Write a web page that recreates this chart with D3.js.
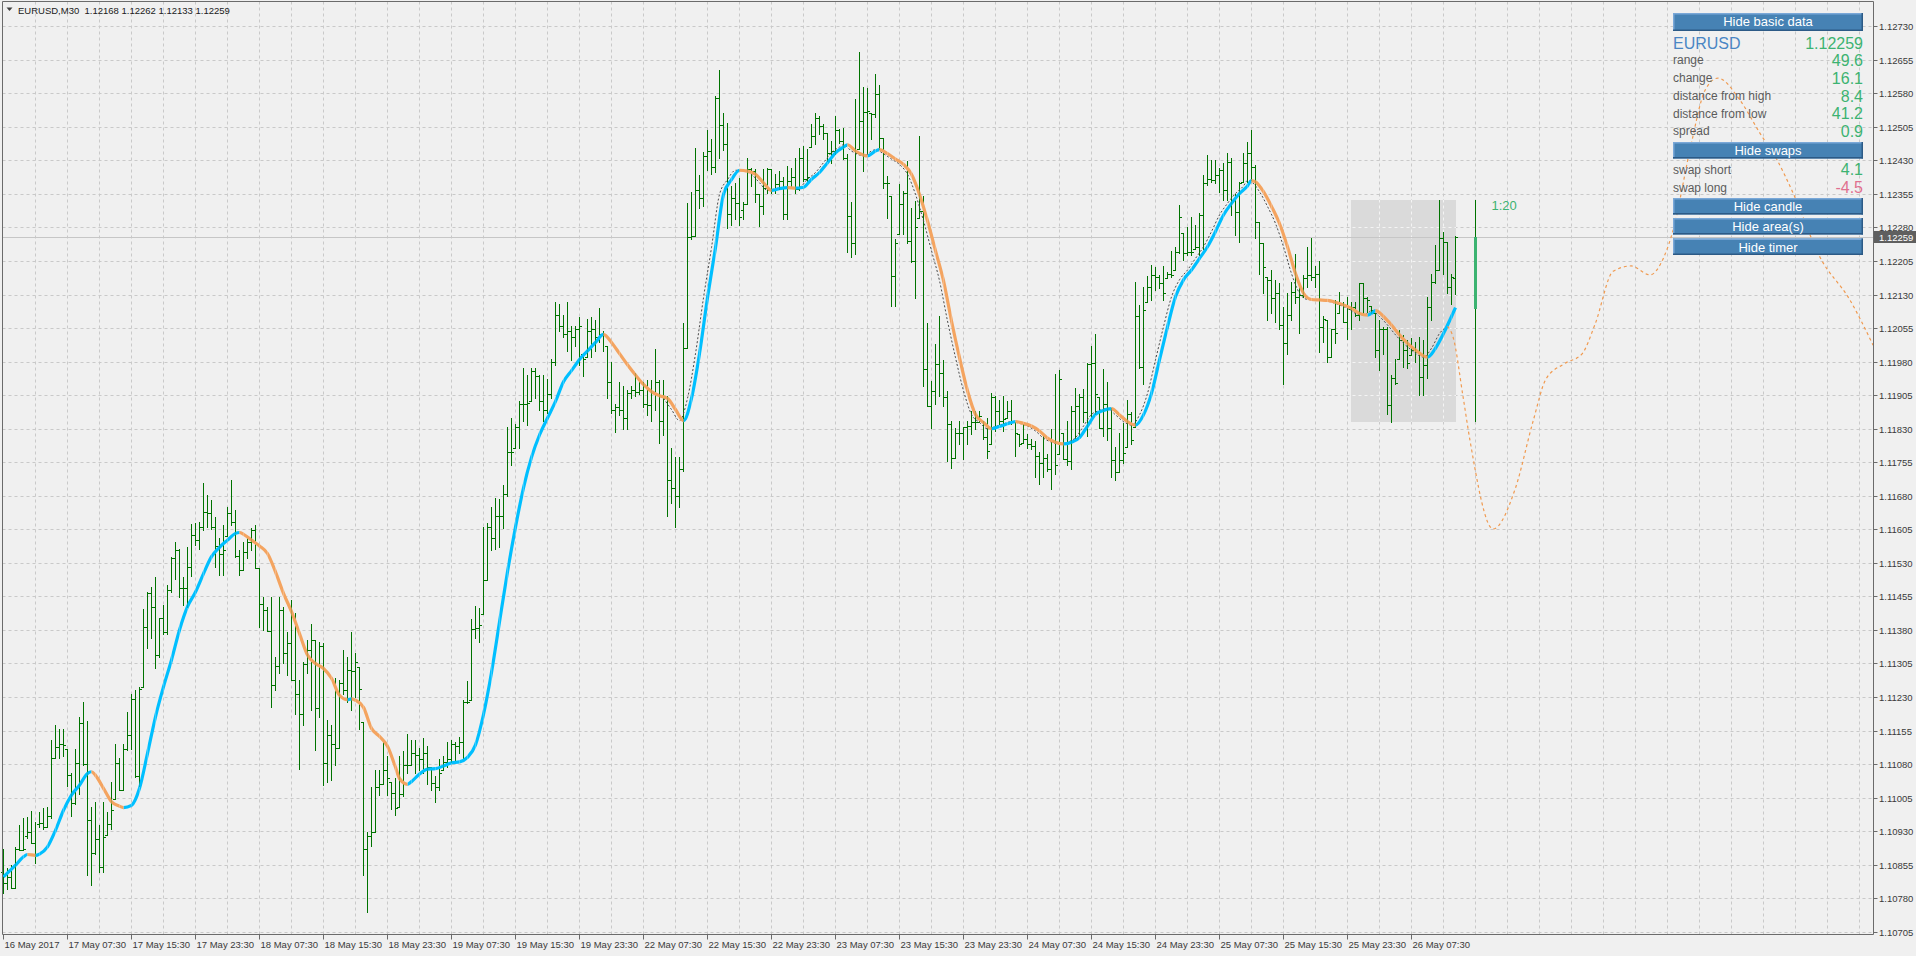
<!DOCTYPE html>
<html><head><meta charset="utf-8">
<script src="https://cdn.jsdelivr.net/npm/d3@7"></script>
<style>
body{margin:0;background:#f0f0f0;overflow:hidden}
svg{display:block}
text{font-family:"Liberation Sans",Arial,sans-serif}
</style>
</head><body>
<svg id="c" width="1916" height="956"></svg>
<script>
// ---------------- DATA ----------------
const symbolTitle = "EURUSD,M30";
const lastOHLC = ["1.12168","1.12262","1.12133","1.12259"];

const barOpen = [
1.10840,1.10816,1.10829,1.10805,1.10892,1.10890,1.10920,1.10930,1.10904,1.10948,
1.10950,1.10941,1.10965,1.11094,1.11120,1.11126,1.11115,1.11056,1.10995,1.11083,
1.11174,1.11082,1.10957,1.10883,1.10913,1.10850,1.10922,1.10948,1.11004,1.11084,
1.11024,1.11116,1.11146,1.11226,1.11054,1.11254,1.11388,1.11463,1.11433,1.11325,
1.11407,1.11377,1.11470,1.11543,1.11560,1.11474,1.11474,1.11522,1.11593,1.11582,
1.11612,1.11645,1.11642,1.11612,1.11569,1.11552,1.11591,1.11643,1.11623,1.11546,
1.11515,1.11556,1.11578,1.11604,1.11519,1.11439,1.11425,1.11379,1.11258,1.11301,
1.11425,1.11329,1.11351,1.11269,1.11238,1.11193,1.11306,1.11336,1.11358,1.11206,
1.11345,1.11083,1.11146,1.11127,1.11118,1.11263,1.11247,1.11291,1.11290,1.11299,
1.11176,1.10892,1.10920,1.10930,1.11030,1.11036,1.11067,1.11042,1.11017,1.10986,
1.11014,1.11080,1.11080,1.11105,1.11101,1.11092,1.11105,1.11074,1.11039,1.11030,
1.11067,1.11086,1.11092,1.11126,1.11121,1.11130,1.11221,1.11224,1.11384,1.11386,
1.11417,1.11492,1.11611,1.11586,1.11636,1.11636,1.11686,1.11780,1.11789,1.11836,
1.11886,1.11886,1.11892,1.11961,1.11949,1.11892,1.11874,1.11909,1.11980,1.12086,
1.12061,1.12042,1.12049,1.12036,1.12055,1.11999,1.11992,1.12049,1.12055,1.12036,
1.12042,1.12017,1.11936,1.11874,1.11880,1.11874,1.11855,1.11911,1.11917,1.11914,
1.11917,1.11886,1.11884,1.11914,1.11936,1.11849,1.11899,1.11717,1.11699,1.11680,
1.11742,1.12011,1.12259,1.12261,1.12364,1.12346,1.12442,1.12451,1.12417,1.12571,
1.12511,1.12467,1.12311,1.12346,1.12336,1.12320,1.12333,1.12411,1.12407,1.12355,
1.12329,1.12370,1.12411,1.12366,1.12378,1.12385,1.12311,1.12385,1.12393,1.12366,
1.12437,1.12389,1.12460,1.12486,1.12525,1.12508,1.12493,1.12448,1.12452,1.12498,
1.12475,1.12437,1.12307,1.12247,1.12456,1.12519,1.12540,1.12538,1.12534,1.12579,
1.12482,1.12381,1.12352,1.12173,1.12267,1.12333,1.12359,1.12251,1.12206,1.12303,
1.12318,1.11964,1.11882,1.11915,1.11975,1.11956,1.11902,1.11842,1.11766,1.11822,
1.11822,1.11835,1.11837,1.11845,1.11845,1.11848,1.11813,1.11796,1.11902,1.11871,
1.11848,1.11856,1.11871,1.11845,1.11819,1.11800,1.11807,1.11796,1.11792,1.11770,
1.11755,1.11766,1.11740,1.11804,1.11774,1.11822,1.11763,1.11759,1.11871,1.11882,
1.11901,1.11869,1.11975,1.11977,1.11901,1.11833,1.11886,1.11833,1.11761,1.11735,
1.11761,1.11791,1.11865,1.11836,1.12082,1.11970,1.12115,1.12149,1.12175,1.12171,
1.12158,1.12167,1.12178,1.12186,1.12227,1.12268,1.12223,1.12227,1.12234,1.12238,
1.12309,1.12380,1.12389,1.12387,1.12398,1.12410,1.12365,1.12428,1.12342,1.12316,
1.12383,1.12426,1.12448,1.12417,1.12294,1.12246,1.12171,1.12164,1.12123,1.12134,
1.12063,1.12023,1.12085,1.12137,1.12126,1.12130,1.12167,1.12175,1.12171,1.12177,
1.12059,1.12074,1.11992,1.12055,1.12089,1.12111,1.12070,1.12098,1.12104,1.12085,
1.12158,1.12123,1.12105,1.12089,1.12008,1.12055,1.12055,1.11884,1.11944,1.11988,
1.12029,1.12007,1.11996,1.12007,1.12003,1.11947,1.11973,1.12104,1.12160,1.12186,
1.12257,1.12249,1.12149,1.12168];

const barHigh = [
1.10892,1.10848,1.10855,1.10896,1.10945,1.10960,1.10963,1.10976,1.10952,1.10974,
1.10982,1.10986,1.11135,1.11168,1.11159,1.11159,1.11115,1.11062,1.11116,1.11187,
1.11220,1.11177,1.10986,1.10997,1.10945,1.10997,1.10974,1.11042,1.11127,1.11094,
1.11127,1.11197,1.11239,1.11247,1.11254,1.11427,1.11466,1.11478,1.11500,1.11407,
1.11437,1.11481,1.11545,1.11578,1.11563,1.11500,1.11567,1.11618,1.11621,1.11623,
1.11709,1.11683,1.11672,1.11634,1.11586,1.11616,1.11657,1.11716,1.11649,1.11560,
1.11578,1.11589,1.11608,1.11616,1.11519,1.11454,1.11433,1.11455,1.11321,1.11454,
1.11433,1.11377,1.11449,1.11418,1.11270,1.11310,1.11358,1.11394,1.11358,1.11355,
1.11351,1.11179,1.11168,1.11273,1.11270,1.11336,1.11321,1.11377,1.11330,1.11299,
1.11176,1.10930,1.11030,1.11067,1.11067,1.11136,1.11099,1.11042,1.11049,1.11099,
1.11111,1.11149,1.11136,1.11136,1.11117,1.11139,1.11121,1.11074,1.11055,1.11092,
1.11099,1.11130,1.11136,1.11130,1.11142,1.11224,1.11267,1.11405,1.11434,1.11430,
1.11611,1.11621,1.11655,1.11676,1.11674,1.11705,1.11836,1.11855,1.11842,1.11892,
1.11967,1.11951,1.11967,1.11967,1.11951,1.11951,1.11942,1.11986,1.12114,1.12109,
1.12086,1.12114,1.12061,1.12061,1.12080,1.11999,1.12076,1.12080,1.12074,1.12101,
1.12049,1.12017,1.11980,1.11886,1.11936,1.11926,1.11917,1.11926,1.11955,1.11942,
1.11936,1.11939,1.11939,1.12009,1.11939,1.11939,1.11905,1.11789,1.11767,1.11767,
1.12067,1.12336,1.12361,1.12459,1.12399,1.12449,1.12499,1.12480,1.12574,1.12634,
1.12536,1.12514,1.12374,1.12380,1.12392,1.12337,1.12436,1.12415,1.12411,1.12357,
1.12411,1.12415,1.12411,1.12400,1.12407,1.12394,1.12419,1.12415,1.12437,1.12458,
1.12463,1.12456,1.12512,1.12538,1.12531,1.12513,1.12493,1.12475,1.12531,1.12501,
1.12504,1.12446,1.12337,1.12568,1.12674,1.12595,1.12594,1.12538,1.12625,1.12600,
1.12482,1.12396,1.12352,1.12255,1.12378,1.12363,1.12430,1.12325,1.12340,1.12486,
1.12352,1.12068,1.11938,1.12020,1.12083,1.11984,1.11915,1.11848,1.11833,1.11848,
1.11835,1.11848,1.11871,1.11871,1.11871,1.11848,1.11856,1.11912,1.11904,1.11895,
1.11904,1.11893,1.11895,1.11845,1.11819,1.11841,1.11819,1.11807,1.11804,1.11778,
1.11822,1.11774,1.11830,1.11953,1.11962,1.11822,1.11848,1.11882,1.11923,1.11908,
1.11919,1.11979,1.12016,1.12042,1.11901,1.11964,1.11936,1.11877,1.11791,1.11821,
1.11843,1.11895,1.11869,1.12160,1.12108,1.12149,1.12173,1.12197,1.12193,1.12175,
1.12195,1.12182,1.12229,1.12238,1.12331,1.12268,1.12283,1.12305,1.12287,1.12313,
1.12398,1.12443,1.12433,1.12432,1.12413,1.12426,1.12448,1.12436,1.12357,1.12383,
1.12447,1.12473,1.12499,1.12421,1.12294,1.12246,1.12171,1.12186,1.12164,1.12156,
1.12104,1.12134,1.12160,1.12222,1.12156,1.12175,1.12237,1.12257,1.12195,1.12205,
1.12082,1.12074,1.12055,1.12119,1.12137,1.12115,1.12126,1.12115,1.12115,1.12158,
1.12158,1.12126,1.12105,1.12089,1.12074,1.12059,1.12059,1.11951,1.11988,1.12052,
1.12041,1.12029,1.12033,1.12026,1.12037,1.12029,1.12126,1.12178,1.12242,1.12343,
1.12272,1.12249,1.12178,1.12262];

const barLow = [
1.10794,1.10801,1.10803,1.10803,1.10889,1.10890,1.10915,1.10904,1.10860,1.10940,
1.10937,1.10940,1.10960,1.11094,1.11095,1.11099,1.11032,1.10965,1.10993,1.11015,
1.11079,1.10833,1.10810,1.10881,1.10840,1.10840,1.10922,1.10937,1.11004,1.11023,
1.11023,1.11112,1.11116,1.11053,1.11032,1.11254,1.11340,1.11362,1.11295,1.11321,
1.11373,1.11373,1.11466,1.11496,1.11455,1.11437,1.11433,1.11502,1.11571,1.11563,
1.11604,1.11612,1.11606,1.11522,1.11504,1.11504,1.11591,1.11616,1.11545,1.11504,
1.11515,1.11541,1.11560,1.11519,1.11387,1.11381,1.11379,1.11208,1.11247,1.11284,
1.11308,1.11280,1.11269,1.11193,1.11071,1.11168,1.11284,1.11202,1.11112,1.11187,
1.11034,1.11042,1.11045,1.11079,1.11118,1.11239,1.11220,1.11202,1.11232,1.11159,
1.10833,1.10751,1.10899,1.10930,1.11011,1.11036,1.11011,1.10980,1.10967,1.10986,
1.11010,1.11061,1.11080,1.11061,1.11067,1.11061,1.11036,1.11024,1.10996,1.11024,
1.11067,1.11074,1.11086,1.11086,1.11105,1.11092,1.11217,1.11224,1.11364,1.11355,
1.11417,1.11492,1.11559,1.11561,1.11567,1.11609,1.11680,1.11751,1.11789,1.11789,
1.11849,1.11839,1.11892,1.11899,1.11874,1.11849,1.11867,1.11899,1.11974,1.12049,
1.12036,1.12005,1.11984,1.12017,1.11974,1.11949,1.11992,1.11992,1.12005,1.12024,
1.12005,1.11899,1.11867,1.11824,1.11861,1.11830,1.11830,1.11899,1.11905,1.11909,
1.11880,1.11861,1.11849,1.11874,1.11799,1.11817,1.11636,1.11664,1.11611,1.11655,
1.11736,1.12011,1.12255,1.12261,1.12324,1.12330,1.12409,1.12401,1.12405,1.12436,
1.12455,1.12280,1.12286,1.12301,1.12286,1.12300,1.12333,1.12374,1.12337,1.12284,
1.12311,1.12359,1.12359,1.12359,1.12366,1.12299,1.12299,1.12370,1.12359,1.12364,
1.12385,1.12385,1.12460,1.12467,1.12490,1.12478,1.12430,1.12426,1.12445,1.12471,
1.12434,1.12227,1.12214,1.12221,1.12456,1.12407,1.12445,1.12478,1.12527,1.12456,
1.12370,1.12302,1.12106,1.12106,1.12267,1.12266,1.12247,1.12203,1.12124,1.12303,
1.11927,1.11882,1.11833,1.11886,1.11904,1.11882,1.11759,1.11744,1.11766,1.11796,
1.11763,1.11796,1.11819,1.11830,1.11845,1.11807,1.11766,1.11796,1.11826,1.11841,
1.11826,1.11856,1.11841,1.11770,1.11792,1.11800,1.11789,1.11785,1.11722,1.11707,
1.11722,1.11737,1.11696,1.11729,1.11774,1.11763,1.11751,1.11740,1.11811,1.11815,
1.11845,1.11815,1.11856,1.11863,1.11833,1.11815,1.11806,1.11724,1.11716,1.11735,
1.11754,1.11791,1.11798,1.11836,1.11966,1.11932,1.12115,1.12119,1.12141,1.12145,
1.12119,1.12167,1.12171,1.12186,1.12223,1.12208,1.12219,1.12219,1.12234,1.12219,
1.12234,1.12376,1.12383,1.12380,1.12361,1.12342,1.12342,1.12309,1.12264,1.12249,
1.12383,1.12383,1.12387,1.12257,1.12178,1.12134,1.12074,1.12089,1.12070,1.12055,
1.11932,1.11999,1.12074,1.12113,1.12044,1.12126,1.12149,1.12164,1.12149,1.12003,
1.12026,1.11981,1.11992,1.12022,1.12089,1.12070,1.12031,1.12055,1.12082,1.12074,
1.12089,1.12093,1.12089,1.11992,1.11962,1.11999,1.11865,1.11847,1.11932,1.11988,
1.11970,1.11966,1.11996,1.11981,1.11906,1.11906,1.11944,1.12074,1.12156,1.12186,
1.12178,1.12134,1.12111,1.12133];

const barClose = [
1.10816,1.10829,1.10805,1.10892,1.10890,1.10892,1.10930,1.10904,1.10881,1.10950,
1.10941,1.10965,1.11094,1.11120,1.11126,1.11124,1.11056,1.10995,1.11083,1.11174,
1.11082,1.10957,1.10883,1.10913,1.10850,1.10919,1.10948,1.10978,1.11084,1.11024,
1.11116,1.11146,1.11226,1.11054,1.11250,1.11388,1.11463,1.11433,1.11325,1.11407,
1.11377,1.11470,1.11543,1.11560,1.11474,1.11474,1.11522,1.11593,1.11582,1.11612,
1.11645,1.11642,1.11612,1.11569,1.11552,1.11560,1.11643,1.11623,1.11546,1.11515,
1.11556,1.11578,1.11604,1.11519,1.11439,1.11425,1.11379,1.11258,1.11301,1.11425,
1.11329,1.11351,1.11269,1.11238,1.11193,1.11306,1.11336,1.11358,1.11206,1.11345,
1.11083,1.11146,1.11127,1.11118,1.11263,1.11247,1.11291,1.11290,1.11310,1.11250,
1.10892,1.10920,1.10930,1.11030,1.11036,1.11067,1.11051,1.11017,1.10984,1.11014,
1.11080,1.11080,1.11105,1.11101,1.11092,1.11105,1.11074,1.11039,1.11030,1.11061,
1.11086,1.11092,1.11126,1.11121,1.11130,1.11221,1.11221,1.11384,1.11386,1.11392,
1.11492,1.11611,1.11586,1.11636,1.11636,1.11686,1.11780,1.11780,1.11836,1.11886,
1.11886,1.11889,1.11961,1.11949,1.11892,1.11874,1.11909,1.11980,1.12086,1.12061,
1.12042,1.12049,1.12036,1.12055,1.12061,1.11986,1.12049,1.12055,1.12036,1.12042,
1.12042,1.11936,1.11874,1.11880,1.11874,1.11855,1.11911,1.11917,1.11914,1.11917,
1.11886,1.11884,1.11914,1.11936,1.11849,1.11899,1.11717,1.11699,1.11680,1.11742,
1.12011,1.12259,1.12261,1.12364,1.12346,1.12442,1.12451,1.12417,1.12571,1.12511,
1.12467,1.12311,1.12346,1.12336,1.12305,1.12333,1.12411,1.12407,1.12355,1.12329,
1.12370,1.12411,1.12366,1.12378,1.12385,1.12311,1.12385,1.12393,1.12366,1.12437,
1.12389,1.12393,1.12486,1.12525,1.12508,1.12493,1.12448,1.12452,1.12498,1.12475,
1.12437,1.12307,1.12247,1.12448,1.12519,1.12540,1.12542,1.12534,1.12579,1.12482,
1.12381,1.12381,1.12173,1.12247,1.12333,1.12359,1.12251,1.12206,1.12282,1.12318,
1.11964,1.11882,1.11915,1.11975,1.11956,1.11902,1.11842,1.11766,1.11822,1.11822,
1.11835,1.11837,1.11845,1.11845,1.11860,1.11813,1.11781,1.11902,1.11871,1.11848,
1.11852,1.11871,1.11845,1.11822,1.11796,1.11807,1.11796,1.11792,1.11770,1.11755,
1.11766,1.11740,1.11804,1.11751,1.11942,1.11763,1.11759,1.11871,1.11882,1.11901,
1.11869,1.11975,1.11977,1.11908,1.11833,1.11886,1.11833,1.11761,1.11735,1.11761,
1.11776,1.11865,1.11806,1.12082,1.11970,1.12096,1.12149,1.12175,1.12171,1.12158,
1.12134,1.12178,1.12175,1.12227,1.12304,1.12223,1.12227,1.12227,1.12238,1.12309,
1.12380,1.12389,1.12387,1.12398,1.12410,1.12365,1.12428,1.12342,1.12316,1.12380,
1.12426,1.12448,1.12417,1.12294,1.12246,1.12193,1.12164,1.12123,1.12134,1.12063,
1.12023,1.12085,1.12137,1.12126,1.12130,1.12167,1.12175,1.12171,1.12177,1.12059,
1.12076,1.11991,1.12055,1.12044,1.12111,1.12070,1.12104,1.12104,1.12085,1.12158,
1.12123,1.12119,1.12096,1.12008,1.12055,1.12055,1.11884,1.11944,1.11934,1.12029,
1.12007,1.11977,1.12007,1.12003,1.11947,1.11973,1.12104,1.12160,1.12186,1.12257,
1.12249,1.12149,1.12170,1.12259];

// smoothed moving average (bar index, value)
const maBars = [0,3,5,6,8,9,11,13,15,17,19,21,22,23,25,27,29,30,32,34,36,38,40,42,44,46,48,50,52,54,56,58,59,60,62,64,66,68,70,72,74,76,78,80,82,84,86,87,88,90,92,94,96,98,99,101,102,104,106,108,110,112,114,116,118,120,122,124,126,128,130,132,134,136,138,140,142,144,146,148,150,152,154,156,158,160,162,164,166,168,170,172,174,176,178,180,182,184,186,188,190,192,194,196,198,200,202,204,206,208,210,211,213,215,216,218,219,221,223,225,227,229,231,233,235,237,239,241,243,245,247,249,251,253,255,257,259,261,263,265,267,269,271,273,275,276,277,279,281,283,285,287,289,291,293,295,297,299,301,303,305,307,309,311,312,313,315,317,319,321,323,325,327,329,331,333,335,337,339,341,342,343,345,347,349,351,353,355,356,358,360,362,363];
const maValues = [1.10829,1.10855,1.10874,1.10879,1.10877,1.10880,1.10896,1.10933,1.10978,1.11012,1.11034,1.11060,1.11064,1.11056,1.11027,1.10997,1.10987,1.10984,1.10989,1.11027,1.11105,1.11187,1.11254,1.11314,1.11381,1.11433,1.11466,1.11507,1.11545,1.11566,1.11582,1.11597,1.11599,1.11595,1.11582,1.11569,1.11552,1.11511,1.11463,1.11422,1.11373,1.11325,1.11306,1.11295,1.11273,1.11235,1.11225,1.11227,1.11224,1.11208,1.11161,1.11143,1.11121,1.11074,1.11049,1.11036,1.11042,1.11059,1.11070,1.11071,1.11077,1.11084,1.11086,1.11096,1.11124,1.11192,1.11286,1.11399,1.11511,1.11611,1.11699,1.11767,1.11817,1.11855,1.11892,1.11936,1.11961,1.11986,1.12005,1.12024,1.12042,1.12024,1.11999,1.11974,1.11951,1.11930,1.11914,1.11905,1.11899,1.11874,1.11849,1.11899,1.11999,1.12124,1.12236,1.12355,1.12388,1.12409,1.12407,1.12400,1.12381,1.12364,1.12368,1.12370,1.12369,1.12371,1.12389,1.12404,1.12426,1.12448,1.12461,1.12466,1.12452,1.12443,1.12441,1.12452,1.12455,1.12446,1.12434,1.12422,1.12400,1.12355,1.12296,1.12229,1.12162,1.12072,1.11990,1.11916,1.11863,1.11845,1.11831,1.11836,1.11842,1.11847,1.11843,1.11837,1.11826,1.11810,1.11801,1.11797,1.11801,1.11811,1.11837,1.11863,1.11872,1.11875,1.11876,1.11862,1.11847,1.11839,1.11862,1.11910,1.11985,1.12059,1.12126,1.12164,1.12186,1.12212,1.12238,1.12272,1.12309,1.12335,1.12357,1.12374,1.12386,1.12383,1.12361,1.12328,1.12290,1.12238,1.12178,1.12134,1.12120,1.12119,1.12118,1.12114,1.12108,1.12100,1.12089,1.12085,1.12089,1.12095,1.12082,1.12063,1.12041,1.12022,1.12007,1.11994,1.11991,1.12011,1.12044,1.12082,1.12102];

// thin dotted signal line
const dotBars = [165,167,169,171,173,175,177,179,181,183,185,187,189,191,193,195,197,199,201,203,205,207,209,210,212,214,215,217,218,220,222,224,226,228,230,232,234,236,238,240,242,244,246,248,250,252,254,256,258,260,262,264,266,268,270,272,274,275,276,278,280,282,284,286,288,290,292,294,296,298,300,302,304,306,308,310,311,312,314,316,318,320,322,324,326,328,330,332,334,336,338,340,341,342,344,346,348,350,352,354,355,357,359,361];
const dotValues = [1.11899,1.11874,1.11849,1.11899,1.11999,1.12124,1.12236,1.12355,1.12388,1.12409,1.12407,1.12400,1.12381,1.12364,1.12368,1.12370,1.12369,1.12371,1.12389,1.12404,1.12426,1.12448,1.12461,1.12466,1.12452,1.12443,1.12441,1.12452,1.12455,1.12446,1.12434,1.12422,1.12400,1.12355,1.12296,1.12229,1.12162,1.12072,1.11990,1.11916,1.11863,1.11845,1.11831,1.11836,1.11842,1.11847,1.11843,1.11837,1.11826,1.11810,1.11801,1.11797,1.11801,1.11811,1.11837,1.11863,1.11872,1.11875,1.11876,1.11862,1.11847,1.11839,1.11862,1.11910,1.11985,1.12059,1.12126,1.12164,1.12186,1.12212,1.12238,1.12272,1.12309,1.12335,1.12357,1.12374,1.12386,1.12383,1.12361,1.12328,1.12290,1.12238,1.12178,1.12134,1.12120,1.12119,1.12118,1.12114,1.12108,1.12100,1.12089,1.12085,1.12089,1.12095,1.12082,1.12063,1.12041,1.12022,1.12007,1.11994,1.11991,1.12011,1.12044,1.12060];

// projected (forecast) line, in future bar positions
const fcBars = [361,362.4,364.9,366.6,372.4,377.9,382.4,385.6,390.1,394.6,397.9,402.4,406.9,411.6,415.1,417.4,421.6,425.4,428.6,434.1,439.1,443.4,447.4,454.1,461.6,467.4];
const fcValues = [1.12060,1.12036,1.11902,1.11806,1.11607,1.11696,1.11848,1.11942,1.11976,1.11998,1.12065,1.12183,1.12195,1.12175,1.12215,1.12275,1.12454,1.12588,1.12615,1.12566,1.12492,1.12432,1.12358,1.12215,1.12119,1.12018];

// today's candle / area
const dayStartBar = 337, candleBar = 368;
const dayOpen = 1.12098, dayHigh = 1.12343, dayLow = 1.11847, dayClose = 1.12259;
const bidPrice = 1.12259;
const timerText = "1:20";

const priceTicks = [1.12730,1.12655,1.12580,1.12505,1.12430,1.12355,1.12280,1.12205,1.12130,1.12055,1.11980,1.11905,1.11830,1.11755,1.11680,1.11605,1.11530,1.11455,1.11380,1.11305,1.11230,1.11155,1.11080,1.11005,1.10930,1.10855,1.10780,1.10705];
const timeLabelBars = [0,16,32,48,64,80,96,112,128,144,160,176,192,208,224,240,256,272,288,304,320,336,352];
const timeLabels = ["16 May 2017","17 May 07:30","17 May 15:30","17 May 23:30","18 May 07:30","18 May 15:30","18 May 23:30","19 May 07:30","19 May 15:30","19 May 23:30","22 May 07:30","22 May 15:30","22 May 23:30","23 May 07:30","23 May 15:30","23 May 23:30","24 May 07:30","24 May 15:30","24 May 23:30","25 May 07:30","25 May 15:30","25 May 23:30","26 May 07:30"];

// info panel
const panelSymbol = "EURUSD", panelPrice = "1.12259";
const basicLabels = ["range","change","distance from high","distance from low","spread"];
const basicValues = ["49.6","16.1","8.4","41.2","0.9"];
const swapLabels = ["swap short","swap long"];
const swapValues = ["4.1","-4.5"];
const buttonLabels = ["Hide basic data","Hide swaps","Hide candle","Hide area(s)","Hide timer"];

// ---------------- DRAWING ----------------
const W = 1916, H = 956;
const svg = d3.select("#c");
const plotL = 2.5, plotR = 1873.5, plotT = 1.5, plotB = 934.5;
const x = d3.scaleLinear().domain([0, 1]).range([3.5, 7.5]);
const y = d3.scaleLinear().domain([1.10699, 1.12783]).range([935, 3]);
const crisp = v => Math.round(v) + 0.5;
const BAR = "#007300", ORANGE = "#f4a460", BLUE = "#00bfff";

svg.append("rect").attr("width", W).attr("height", H).attr("fill", "#f0f0f0");

const defs = svg.append("defs");
defs.append("clipPath").attr("id", "plotClip").append("rect")
  .attr("x", plotL).attr("y", plotT).attr("width", plotR - plotL).attr("height", plotB - plotT);

// grid
const vGridBars = d3.range(8, 468, 8);
function drawGrid(g, color) {
  g.attr("stroke", color).attr("stroke-dasharray", "3,3").attr("stroke-width", 1);
  g.selectAll("line.h").data(priceTicks).join("line").attr("class", "h")
    .attr("x1", plotL).attr("x2", plotR).attr("y1", d => crisp(y(d) - 0.5)).attr("y2", d => crisp(y(d) - 0.5));
  g.selectAll("line.v").data(vGridBars.filter(b => x(b) < plotR)).join("line").attr("class", "v")
    .attr("x1", d => x(d)).attr("x2", d => x(d)).attr("y1", plotT).attr("y2", plotB);
}
drawGrid(svg.append("g").attr("clip-path", "url(#plotClip)"), "#c9c9c9");

// today's area rectangle
const areaX0 = x(dayStartBar) - 0.5, areaX1 = x(barClose.length - 1) + 0.5;
const areaY0 = Math.round(y(dayHigh)), areaY1 = Math.round(y(dayLow));
svg.append("rect").attr("x", areaX0).attr("y", areaY0).attr("width", areaX1 - areaX0).attr("height", areaY1 - areaY0)
  .attr("fill", "#dadada");
defs.append("clipPath").attr("id", "areaClip").append("rect")
  .attr("x", areaX0).attr("y", areaY0).attr("width", areaX1 - areaX0).attr("height", areaY1 - areaY0);
drawGrid(svg.append("g").attr("clip-path", "url(#areaClip)"), "#f4f4f4");

// bid line
svg.append("line").attr("x1", plotL).attr("x2", plotR).attr("y1", crisp(y(bidPrice) - 0.5)).attr("y2", crisp(y(bidPrice) - 0.5))
  .attr("stroke", "#c6c6c6").attr("stroke-width", 1);

// OHLC bars
const bars = d3.range(barClose.length).map(i => ({i, o: barOpen[i], h: barHigh[i], l: barLow[i], c: barClose[i]}));
const gb = svg.append("g").attr("fill", BAR).attr("shape-rendering", "crispEdges");
gb.selectAll("rect.s").data(bars).join("rect").attr("class", "s")
  .attr("x", d => x(d.i) - 0.5).attr("width", 1)
  .attr("y", d => Math.round(y(d.h))).attr("height", d => Math.max(1, Math.round(y(d.l)) - Math.round(y(d.h)) + 1));
gb.selectAll("rect.o").data(bars).join("rect").attr("class", "o")
  .attr("x", d => x(d.i) - 2.5).attr("width", 2).attr("y", d => Math.round(y(d.o))).attr("height", 1);
gb.selectAll("rect.c").data(bars).join("rect").attr("class", "c")
  .attr("x", d => x(d.i) + 0.5).attr("width", 2).attr("y", d => Math.round(y(d.c))).attr("height", 1);

// dotted line
const dotPts = dotBars.map((b, k) => [x(b), y(dotValues[k])]);
svg.append("path").attr("d", d3.line().curve(d3.curveMonotoneX)(dotPts))
  .attr("fill", "none").attr("stroke", "#4a4a4a").attr("stroke-width", 1).attr("stroke-dasharray", "2,2");

// smoothed MA, blue rising / orange falling
const maPts = maBars.map((b, k) => [x(b), y(maValues[k])]);
const maPath = d3.line().curve(d3.curveMonotoneX)(maPts);
const fallClip = defs.append("clipPath").attr("id", "fallClip");
const riseClip = defs.append("clipPath").attr("id", "riseClip");
let prevDir = 1;
for (let k = 0; k < maValues.length - 1; k++) {
  const diff = maValues[k + 1] - maValues[k];
  const dir = diff < 0 ? -1 : (diff > 0 ? 1 : prevDir);
  prevDir = dir;
  const x0 = x(maBars[k]) - (k === 0 ? 3 : 0);
  const x1 = x(maBars[k + 1]) + (k === maValues.length - 2 ? 3 : 0);
  (dir < 0 ? fallClip : riseClip).append("rect").attr("x", x0).attr("y", 0)
    .attr("width", x1 - x0).attr("height", H);
}
svg.append("path").attr("d", maPath).attr("fill", "none").attr("stroke", BLUE)
  .attr("stroke-width", 3.2).attr("stroke-linejoin", "round").attr("clip-path", "url(#riseClip)");
svg.append("path").attr("d", maPath).attr("fill", "none").attr("stroke", ORANGE)
  .attr("stroke-width", 3.2).attr("stroke-linejoin", "round").attr("clip-path", "url(#fallClip)");

// forecast dashed line
const fcPts = fcBars.map((b, k) => [x(b), y(fcValues[k])]);
svg.append("path").attr("d", d3.line().curve(d3.curveMonotoneX)(fcPts)).attr("clip-path", "url(#plotClip)")
  .attr("fill", "none").attr("stroke", "#f09a50").attr("stroke-width", 1.2).attr("stroke-dasharray", "3,3");

// today's candle
const cx = x(candleBar);
svg.append("rect").attr("x", cx - 0.5).attr("width", 1).attr("y", Math.round(y(dayHigh)))
  .attr("height", Math.round(y(dayLow)) - Math.round(y(dayHigh))).attr("fill", BAR);
svg.append("rect").attr("x", cx - 1.5).attr("width", 3).attr("y", Math.round(y(dayClose)))
  .attr("height", Math.round(y(dayOpen)) - Math.round(y(dayClose))).attr("fill", "#3cb371");
svg.append("text").attr("x", cx + 16).attr("y", Math.round(y(dayHigh)) + 10).text(timerText)
  .attr("font-size", 13).attr("fill", "#3cb371");

// frame
svg.append("path").attr("d", `M${plotL},${plotB}V${plotT}H${plotR}V${plotB}H${plotL}`)
  .attr("fill", "none").attr("stroke", "#6b6b6b").attr("stroke-width", 1);

// price axis
const pa = svg.append("g");
pa.selectAll("line").data(priceTicks).join("line")
  .attr("x1", plotR).attr("x2", plotR + 4).attr("y1", d => crisp(y(d) - 0.5)).attr("y2", d => crisp(y(d) - 0.5))
  .attr("stroke", "#6b6b6b");
pa.selectAll("text").data(priceTicks).join("text")
  .attr("x", 1879).attr("y", d => y(d) + 3.5).text(d => d.toFixed(5))
  .attr("font-size", 9.5).attr("fill", "#3a3a3a");
// bid price label
const by = crisp(y(bidPrice) - 0.5);
svg.append("rect").attr("x", 1874).attr("y", by - 6.5).attr("width", 42).attr("height", 12).attr("fill", "#5f5f5f");
svg.append("text").attr("x", 1879).attr("y", by + 3).text(bidPrice.toFixed(5)).attr("font-size", 9.5).attr("fill", "#ffffff");

// time axis
const ta = svg.append("g");
ta.selectAll("line").data(timeLabelBars).join("line")
  .attr("x1", d => x(d)).attr("x2", d => x(d)).attr("y1", plotB).attr("y2", plotB + 5).attr("stroke", "#6b6b6b");
ta.selectAll("text").data(timeLabelBars).join("text")
  .attr("x", d => x(d) + 1).attr("y", 948).text((d, k) => timeLabels[k])
  .attr("font-size", 9.5).attr("fill", "#3a3a3a");

// title
svg.append("path").attr("d", "M6.5,7.5L12.5,7.5L9.5,11Z").attr("fill", "#404040");
svg.append("text").attr("x", 18).attr("y", 14).text(symbolTitle + "  " + lastOHLC.join(" "))
  .attr("font-size", 9.5).attr("fill", "#202020").attr("xml:space", "preserve").style("white-space", "pre");

// info panel
const pX0 = 1673, pX1 = 1863;
function button(label, y0, y1) {
  const g = svg.append("g");
  g.append("rect").attr("x", pX0).attr("y", y0).attr("width", pX1 - pX0).attr("height", y1 - y0).attr("fill", "#4682b4");
  g.append("rect").attr("x", pX0).attr("y", y0).attr("width", pX1 - pX0).attr("height", 1.5).attr("fill", "#7aa8d8");
  g.append("rect").attr("x", pX0).attr("y", y0).attr("width", 1.5).attr("height", y1 - y0).attr("fill", "#7aa8d8");
  g.append("rect").attr("x", pX0).attr("y", y1 - 1.5).attr("width", pX1 - pX0).attr("height", 1.5).attr("fill", "#2c5a86");
  g.append("rect").attr("x", pX1 - 1.5).attr("y", y0).attr("width", 1.5).attr("height", y1 - y0).attr("fill", "#2c5a86");
  g.append("text").attr("x", (pX0 + pX1) / 2).attr("y", y0 + 13.3).attr("text-anchor", "middle")
    .text(label).attr("font-size", 13).attr("fill", "#ffffff");
}
const btnY = [[13, 31], [142, 158.5], [198, 214.5], [218, 234.5], [238.5, 255]];
buttonLabels.forEach((l, k) => button(l, btnY[k][0], btnY[k][1]));

svg.append("text").attr("x", pX0).attr("y", 48.5).text(panelSymbol).attr("font-size", 16).attr("fill", "#4a86c4");
svg.append("text").attr("x", pX1).attr("y", 48.5).attr("text-anchor", "end").text(panelPrice).attr("font-size", 16).attr("fill", "#3cb371");
const rowY = [60, 77.7, 95.7, 113.3, 131];
basicLabels.forEach((l, k) => {
  svg.append("text").attr("x", pX0).attr("y", rowY[k] + 4.2).text(l).attr("font-size", 12).attr("fill", "#5c5c5c");
  svg.append("text").attr("x", pX1).attr("y", rowY[k] + 5.8).attr("text-anchor", "end").text(basicValues[k])
    .attr("font-size", 16).attr("fill", "#3cb371");
});
const swapY = [169.5, 187.5];
swapLabels.forEach((l, k) => {
  svg.append("text").attr("x", pX0).attr("y", swapY[k] + 4.2).text(l).attr("font-size", 12).attr("fill", "#5c5c5c");
  svg.append("text").attr("x", pX1).attr("y", swapY[k] + 5.8).attr("text-anchor", "end").text(swapValues[k])
    .attr("font-size", 16).attr("fill", +swapValues[k] < 0 ? "#e0708f" : "#3cb371");
});
</script>
</body></html>
